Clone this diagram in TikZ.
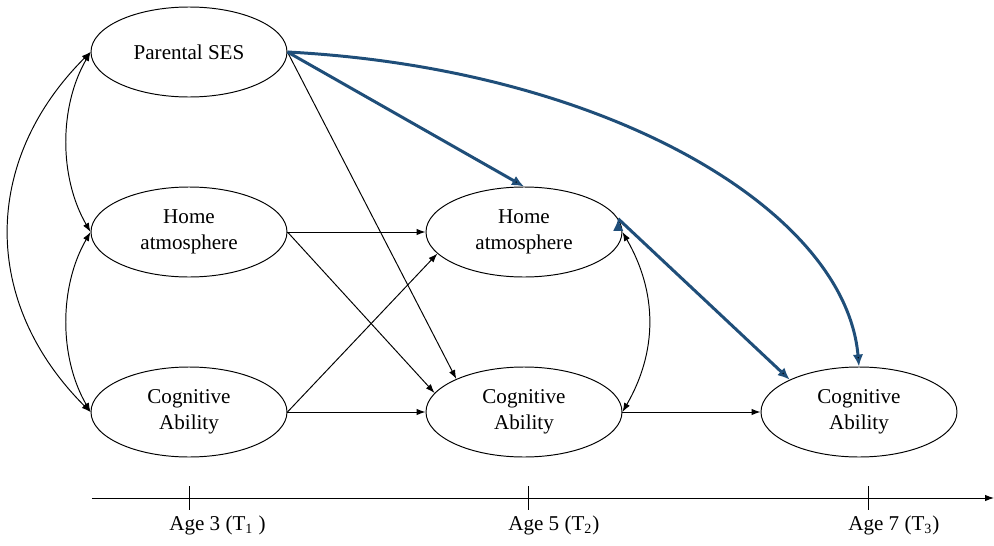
\documentclass[tikz,border=0pt]{standalone}
\usepackage{fontspec}
\setmainfont{Liberation Serif}
\usetikzlibrary{arrows.meta}
\usetikzlibrary{positioning}
\usetikzlibrary{shapes.geometric}

\definecolor{pathblue}{RGB}{31,78,121}

\begin{document}
\begin{tikzpicture}[node distance=3.6cm and 6.7cm,on grid,line width=0.55pt,
    var/.style={ellipse,draw,minimum width=3.92cm,minimum height=1.8cm,inner sep=0pt,
      align=center,font=\fontsize{12}{14.5}\selectfont},
    >={Latex[length=1.8mm,width=1.3mm]},
    bluepath/.style={draw=pathblue,line width=1.7pt,-{Latex[length=2.4mm,width=2.1mm]}}]
   \useasboundingbox (-3.78,-2.66) rectangle (16.1,8.24);
   \node[var] (cog_1)                    {Cognitive\\Ability};
   \node[var] (home_1) [above=of cog_1]  {Home\\atmosphere};
   \node[var] (ses)    [above=of home_1] {Parental SES};
   \node[var] (home_2) [right=of home_1] {Home\\atmosphere};
   \node[var] (cog_2)  [right=of cog_1]  {Cognitive\\Ability};
   \node[var] (cog_3)  [right=of cog_2]  {Cognitive\\Ability};
    \path[<->]
    (ses.west) edge[out=225,in=135,looseness=1.1] (cog_1.west)
    (ses.west) edge[out=240,in=120,looseness=0.9] (home_1.west)
    (home_1.west) edge[out=240,in=120,looseness=0.9] (cog_1.west)
    (home_2.east) edge[out=-60,in=60] (cog_2.east);
    \path[->]
    (home_1.east) edge (home_2.west)
    (home_1.east) edge (cog_2.168)
    (cog_1.east) edge (home_2.194)
    (cog_1.east) edge (cog_2.west)
    (ses.east) edge (cog_2.154)
    (cog_2.east) edge (cog_3.west);
    \path[bluepath]
    (ses.east) edge (home_2.north)
    (ses.east) edge[out=-3,in=95,out looseness=1.25,in looseness=0.62] (cog_3.north)
    (home_2.8) edge (cog_3.155);
   % time axis
   \coordinate (axis_start) at (-1.94,-1.72);
   \coordinate (axis_end) at (16.1,-1.72);
   \draw[->] (axis_start) -- (axis_end);
   \foreach \x/\lab [count=\i] in {0/{Age 3 (T\textsubscript{1} )},6.78/{Age 5 (T\textsubscript{2})},13.58/{Age 7 (T\textsubscript{3})}}{
      \draw (\x,-1.48) -- (\x,-1.96);
      \node[anchor=west,font=\fontsize{12}{14.5}\selectfont] (age_\i) at (\x-0.52,-2.26) {\lab};
   }
\end{tikzpicture}
\end{document}
